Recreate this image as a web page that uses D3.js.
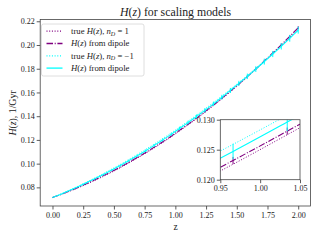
<!DOCTYPE html>
<html>
<head>
<meta charset="utf-8">
<script src="https://cdn.jsdelivr.net/npm/d3@7"></script>
<style>
  body { margin: 0; background: #fff; }
  text { font-family: "Liberation Serif", "DejaVu Serif", serif; fill: #222; }
</style>
</head>
<body>
<svg id="chart" width="320" height="240"></svg>
<script>
// redshift sample points (30 points, 0..2)
const zs = [0.000, 0.069, 0.138, 0.207, 0.276, 0.345, 0.414, 0.483, 0.552, 0.621,
            0.690, 0.759, 0.828, 0.897, 0.966, 1.034, 1.103, 1.172, 1.241, 1.310,
            1.379, 1.448, 1.517, 1.586, 1.655, 1.724, 1.793, 1.862, 1.931, 2.000];

// true H(z), n_D = 1
const trueP = [0.07140, 0.07396, 0.07670, 0.07959, 0.08266, 0.08590, 0.08930, 0.09287, 0.09661, 0.10052,
               0.10460, 0.10884, 0.11326, 0.11784, 0.12258, 0.12750, 0.13259, 0.13784, 0.14326, 0.14885,
               0.15461, 0.16053, 0.16663, 0.17289, 0.17932, 0.18591, 0.19268, 0.19961, 0.20672, 0.21399];
// H(z) from dipole, n_D = 1
const dipP = [0.0714, 0.0741, 0.0769, 0.0799, 0.0831, 0.0864, 0.0899, 0.0935, 0.0972, 0.1011,
              0.1052, 0.1094, 0.1139, 0.1184, 0.1232, 0.1281, 0.1332, 0.1384, 0.1439, 0.1494,
              0.1552, 0.1611, 0.1672, 0.1735, 0.1799, 0.1865, 0.1933, 0.2002, 0.2073, 0.2146];
const errP = [0.0000, 0.0001, 0.0001, 0.0001, 0.0002, 0.0002, 0.0002, 0.0003, 0.0003, 0.0004,
              0.0004, 0.0004, 0.0005, 0.0005, 0.0006, 0.0006, 0.0007, 0.0007, 0.0007, 0.0008,
              0.0008, 0.0009, 0.0009, 0.0010, 0.0010, 0.0010, 0.0011, 0.0011, 0.0012, 0.0012];

// true H(z), n_D = -1
const trueC = [0.07140, 0.07445, 0.07763, 0.08094, 0.08437, 0.08794, 0.09164, 0.09547, 0.09942, 0.10351,
               0.10773, 0.11207, 0.11655, 0.12115, 0.12589, 0.13075, 0.13575, 0.14087, 0.14613, 0.15151,
               0.15703, 0.16267, 0.16844, 0.17434, 0.18038, 0.18654, 0.19283, 0.19925, 0.20580, 0.21248];
// H(z) from dipole, n_D = -1
const dipC = [0.0714, 0.0743, 0.0773, 0.0805, 0.0838, 0.0873, 0.0908, 0.0946, 0.0985, 0.1025,
              0.1066, 0.1109, 0.1154, 0.1200, 0.1247, 0.1296, 0.1346, 0.1397, 0.1450, 0.1504,
              0.1560, 0.1617, 0.1676, 0.1736, 0.1797, 0.1860, 0.1924, 0.1989, 0.2056, 0.2125];
const errC = [0.0000, 0.0001, 0.0002, 0.0003, 0.0004, 0.0005, 0.0006, 0.0007, 0.0008, 0.0009,
              0.0010, 0.0011, 0.0012, 0.0013, 0.0013, 0.0015, 0.0016, 0.0017, 0.0018, 0.0019,
              0.0020, 0.0021, 0.0022, 0.0023, 0.0024, 0.0025, 0.0026, 0.0027, 0.0028, 0.0029];

const xTicks = [0, 0.25, 0.5, 0.75, 1.0, 1.25, 1.5, 1.75, 2.0];
const yTicks = [0.08, 0.10, 0.12, 0.14, 0.16, 0.18, 0.20, 0.22];
const xTicksIn = [0.95, 1.00, 1.05];
const yTicksIn = [0.120, 0.125, 0.130];

const purple = "#800080", cyan = "#00ffff";

const series = [
  { name: "trueP", y: trueP, color: purple, dash: "1,1.7", w: 1.0, label: [["true "], ["H", 1], ["("], ["z", 1], ["), "], ["n", 1], ["D", 1, 1], [" = 1", 0, -1]] },
  { name: "dipP", y: dipP, err: errP, color: purple, dash: "6.5,1.7,1,1.7", w: 1.1, label: [["H", 1], ["("], ["z", 1], [") from dipole"]] },
  { name: "trueC", y: trueC, color: cyan, dash: "1,1.7", w: 1.0, label: [["true "], ["H", 1], ["("], ["z", 1], ["), "], ["n", 1], ["D", 1, 1], [" = \u22121", 0, -1]] },
  { name: "dipC", y: dipC, err: errC, color: cyan, dash: null, w: 1.1, label: [["H", 1], ["("], ["z", 1], [") from dipole"]] }
];

const svg = d3.select("#chart");

// main panel
const x = d3.scaleLinear().domain([-0.1, 2.1]).range([40.2, 310.5]);
const y = d3.scaleLinear().domain([0.0643, 0.2215]).range([206, 19.5]);

// inset panel
const xi = d3.scaleLinear().domain([0.95, 1.05]).range([220.3, 300]);
const yi = d3.scaleLinear().domain([0.120, 0.130]).range([179.7, 119.7]);

function drawSeries(g, sx, sy) {
  series.forEach(s => {
    const line = d3.line().x((d, i) => sx(zs[i])).y(d => sy(d)).curve(d3.curveMonotoneX);
    if (s.err) {
      g.selectAll(".eb_" + s.name).data(s.y).enter().append("line")
        .attr("x1", (d, i) => sx(zs[i])).attr("x2", (d, i) => sx(zs[i]))
        .attr("y1", (d, i) => sy(d - s.err[i])).attr("y2", (d, i) => sy(d + s.err[i]))
        .attr("stroke", s.color).attr("stroke-width", 1);
    }
    g.append("path").datum(s.y)
      .attr("d", line)
      .attr("fill", "none")
      .attr("stroke", s.color)
      .attr("stroke-width", s.w)
      .attr("stroke-dasharray", s.dash);
  });
}

function frame(g, sx, sy) {
  g.append("rect")
    .attr("x", sx.range()[0]).attr("y", sy.range()[1])
    .attr("width", sx.range()[1] - sx.range()[0])
    .attr("height", sy.range()[0] - sy.range()[1])
    .attr("fill", "none").attr("stroke", "#444").attr("stroke-width", 0.8);
}

function styleAxis(g) {
  g.select(".domain").remove();
  g.selectAll(".tick line").attr("stroke", "#333").attr("stroke-width", 0.8);
  g.selectAll(".tick text").style("font-family", "Liberation Serif").style("font-size", "8px").attr("fill", "#222");
}

// clip paths
const defs = svg.append("defs");
defs.append("clipPath").attr("id", "clipMain").append("rect")
  .attr("x", 40.2).attr("y", 19.5).attr("width", 270.3).attr("height", 186.5);
defs.append("clipPath").attr("id", "clipIn").append("rect")
  .attr("x", 220.3).attr("y", 119.7).attr("width", 79.7).attr("height", 60);

// main data
const gMain = svg.append("g").attr("clip-path", "url(#clipMain)");
drawSeries(gMain, x, y);

// main axes
svg.append("g").attr("transform", "translate(0,206)")
  .call(d3.axisBottom(x).tickValues(xTicks).tickFormat(d3.format(".2f")).tickSize(3.5).tickPadding(2.5))
  .call(styleAxis);
svg.append("g").attr("transform", "translate(40.2,0)")
  .call(d3.axisLeft(y).tickValues(yTicks).tickFormat(d3.format(".2f")).tickSize(3.5).tickPadding(2))
  .call(styleAxis);
frame(svg, x, y);

// legend
const lg = svg.append("g").attr("transform", "translate(41.5,24)");
lg.append("rect").attr("width", 102.5).attr("height", 52).attr("rx", 2)
  .attr("fill", "#fff").attr("fill-opacity", 0.85).attr("stroke", "#d6d6d6").attr("stroke-width", 0.8);
series.forEach((s, k) => {
  const yy = 7.2 + k * 12.3;
  lg.append("line").attr("x1", 5).attr("x2", 21).attr("y1", yy).attr("y2", yy)
    .attr("stroke", s.color).attr("stroke-width", s.w + 0.2).attr("stroke-dasharray", s.dash);
  const t = lg.append("text").attr("x", 29.5).attr("y", yy + 2.8).style("font-size", "8.7px");
  s.label.forEach(p => {
    const ts = t.append("tspan").text(p[0]);
    if (p[1]) ts.style("font-style", "italic");
    if (p[2] === 1) ts.style("font-size", "6.1px").attr("dy", 1.6);
    if (p[2] === -1) ts.attr("dy", -1.6);
  });
});

// inset
svg.append("rect").attr("x", 220.3).attr("y", 119.7).attr("width", 79.7).attr("height", 60).attr("fill", "#fff");
const gIn = svg.append("g").attr("clip-path", "url(#clipIn)");
drawSeries(gIn, xi, yi);
svg.append("g").attr("transform", "translate(0,179.7)")
  .call(d3.axisBottom(xi).tickValues(xTicksIn).tickFormat(d3.format(".2f")).tickSize(3.5).tickPadding(2.5))
  .call(styleAxis);
svg.append("g").attr("transform", "translate(220.3,0)")
  .call(d3.axisLeft(yi).tickValues(yTicksIn).tickFormat(d3.format(".3f")).tickSize(3.5).tickPadding(2))
  .call(styleAxis);
frame(svg, xi, yi);

// title and axis labels
const title = svg.append("text").attr("x", 175.5).attr("y", 15.5).attr("text-anchor", "middle").style("font-size", "11.8px");
title.append("tspan").text("H").style("font-style", "italic");
title.append("tspan").text("(");
title.append("tspan").text("z").style("font-style", "italic");
title.append("tspan").text(") for scaling models");

svg.append("text").attr("x", 175.5).attr("y", 229.5).attr("text-anchor", "middle").style("font-size", "9.5px").text("z");

const yl = svg.append("text").attr("transform", "translate(15.5,113) rotate(-90)").attr("text-anchor", "middle").style("font-size", "9.8px");
yl.append("tspan").text("H").style("font-style", "italic");
yl.append("tspan").text("(");
yl.append("tspan").text("z").style("font-style", "italic");
yl.append("tspan").text("), 1/Gyr");
</script>
</body>
</html>
